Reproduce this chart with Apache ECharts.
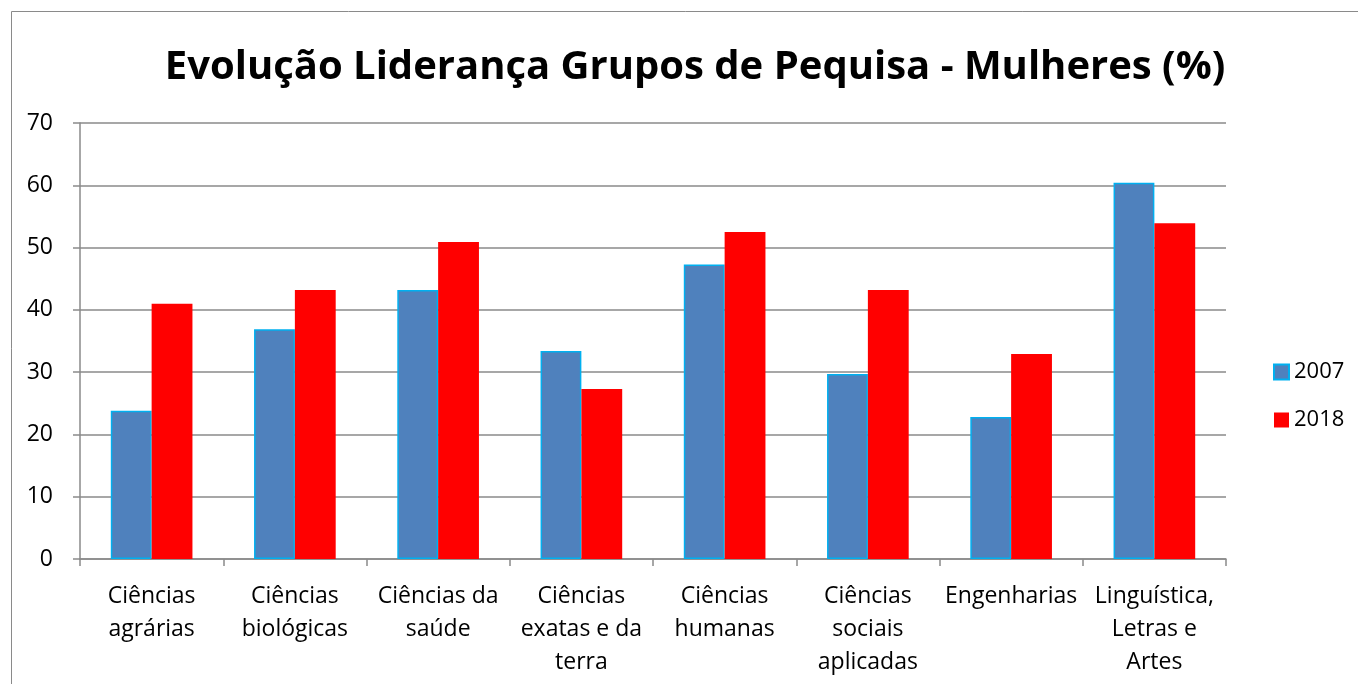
<!DOCTYPE html>
<html>
<head>
<meta charset="utf-8">
<script src="https://cdn.jsdelivr.net/npm/echarts@6/dist/echarts.min.js"></script>
<style>
html,body{margin:0;padding:0;background:#fff;}
#c{width:1358px;height:684px;}
</style>
</head>
<body>
<div id="c"></div>
<script>
const categories = [
  "Ciências\nagrárias",
  "Ciências\nbiológicas",
  "Ciências da\nsaúde",
  "Ciências\nexatas e da\nterra",
  "Ciências\nhumanas",
  "Ciências\nsociais\naplicadas",
  "Engenharias",
  "Linguística,\nLetras e\nArtes"
];
const seriesNames = ["2007", "2018"];
const values2007 = [23.8, 36.9, 43.2, 33.4, 47.3, 29.7, 22.8, 60.4];
const values2018 = [41.0, 43.2, 50.9, 27.3, 52.5, 43.2, 32.9, 53.9];
const yTicks = { min: 0, max: 70, interval: 10 };

const FONT = "Open Sans";
const chart = echarts.init(document.getElementById('c'));
chart.setOption({
  backgroundColor: '#fff',
  animation: false,
  textStyle: { fontFamily: FONT },
  title: {
    text: "Evolução Liderança Grupos de Pequisa - Mulheres (%)",
    left: 690, top: 43, textAlign: 'center',
    textStyle: { fontFamily: FONT, fontWeight: 'bold', fontSize: 40, color: '#000' }
  },
  graphic: [{
    type: 'rect', silent: true, z: -1,
    shape: { x: 11.5, y: 11.5, width: 1400, height: 800 },
    style: { fill: 'none', stroke: '#8a8a8a', lineWidth: 1 }
  }],
  legend: {
    orient: 'vertical', left: 1268, top: 356,
    itemWidth: 15, itemHeight: 15, itemGap: 26,
    textStyle: { fontFamily: FONT, fontSize: 22, color: '#000' },
    data: [
      { name: seriesNames[0], icon: 'rect' },
      { name: seriesNames[1], icon: 'rect' }
    ]
  },
  grid: { left: 80, right: 132, top: 123, bottom: 125, containLabel: false },
  xAxis: {
    type: 'category', data: categories,
    axisLine: { lineStyle: { color: '#8a8a8a', width: 1.5 } },
    axisTick: { show: true, length: 7, interval: 0, lineStyle: { color: '#8a8a8a', width: 1.5 } },
    axisLabel: { interval: 0, margin: 21, lineHeight: 33, fontFamily: FONT, fontSize: 23, color: '#000' }
  },
  yAxis: {
    type: 'value', min: yTicks.min, max: yTicks.max, interval: yTicks.interval,
    axisLine: { show: true, lineStyle: { color: '#8a8a8a', width: 1.5 } },
    axisTick: { show: true, length: 7, lineStyle: { color: '#8a8a8a', width: 1.5 } },
    axisLabel: { margin: 27, fontFamily: FONT, fontSize: 23, color: '#000' },
    splitLine: { lineStyle: { color: '#8a8a8a', width: 1.5 } }
  },
  series: [
    {
      name: seriesNames[0], type: 'bar', data: values2007,
      barGap: '0%', barCategoryGap: '43%',
      itemStyle: { color: '#4F81BD', borderColor: '#00B0F0', borderWidth: 1.5 }
    },
    {
      name: seriesNames[1], type: 'bar', data: values2018,
      barGap: '0%', barCategoryGap: '43%',
      itemStyle: { color: '#FF0000' }
    }
  ]
});
</script>
</body>
</html>
